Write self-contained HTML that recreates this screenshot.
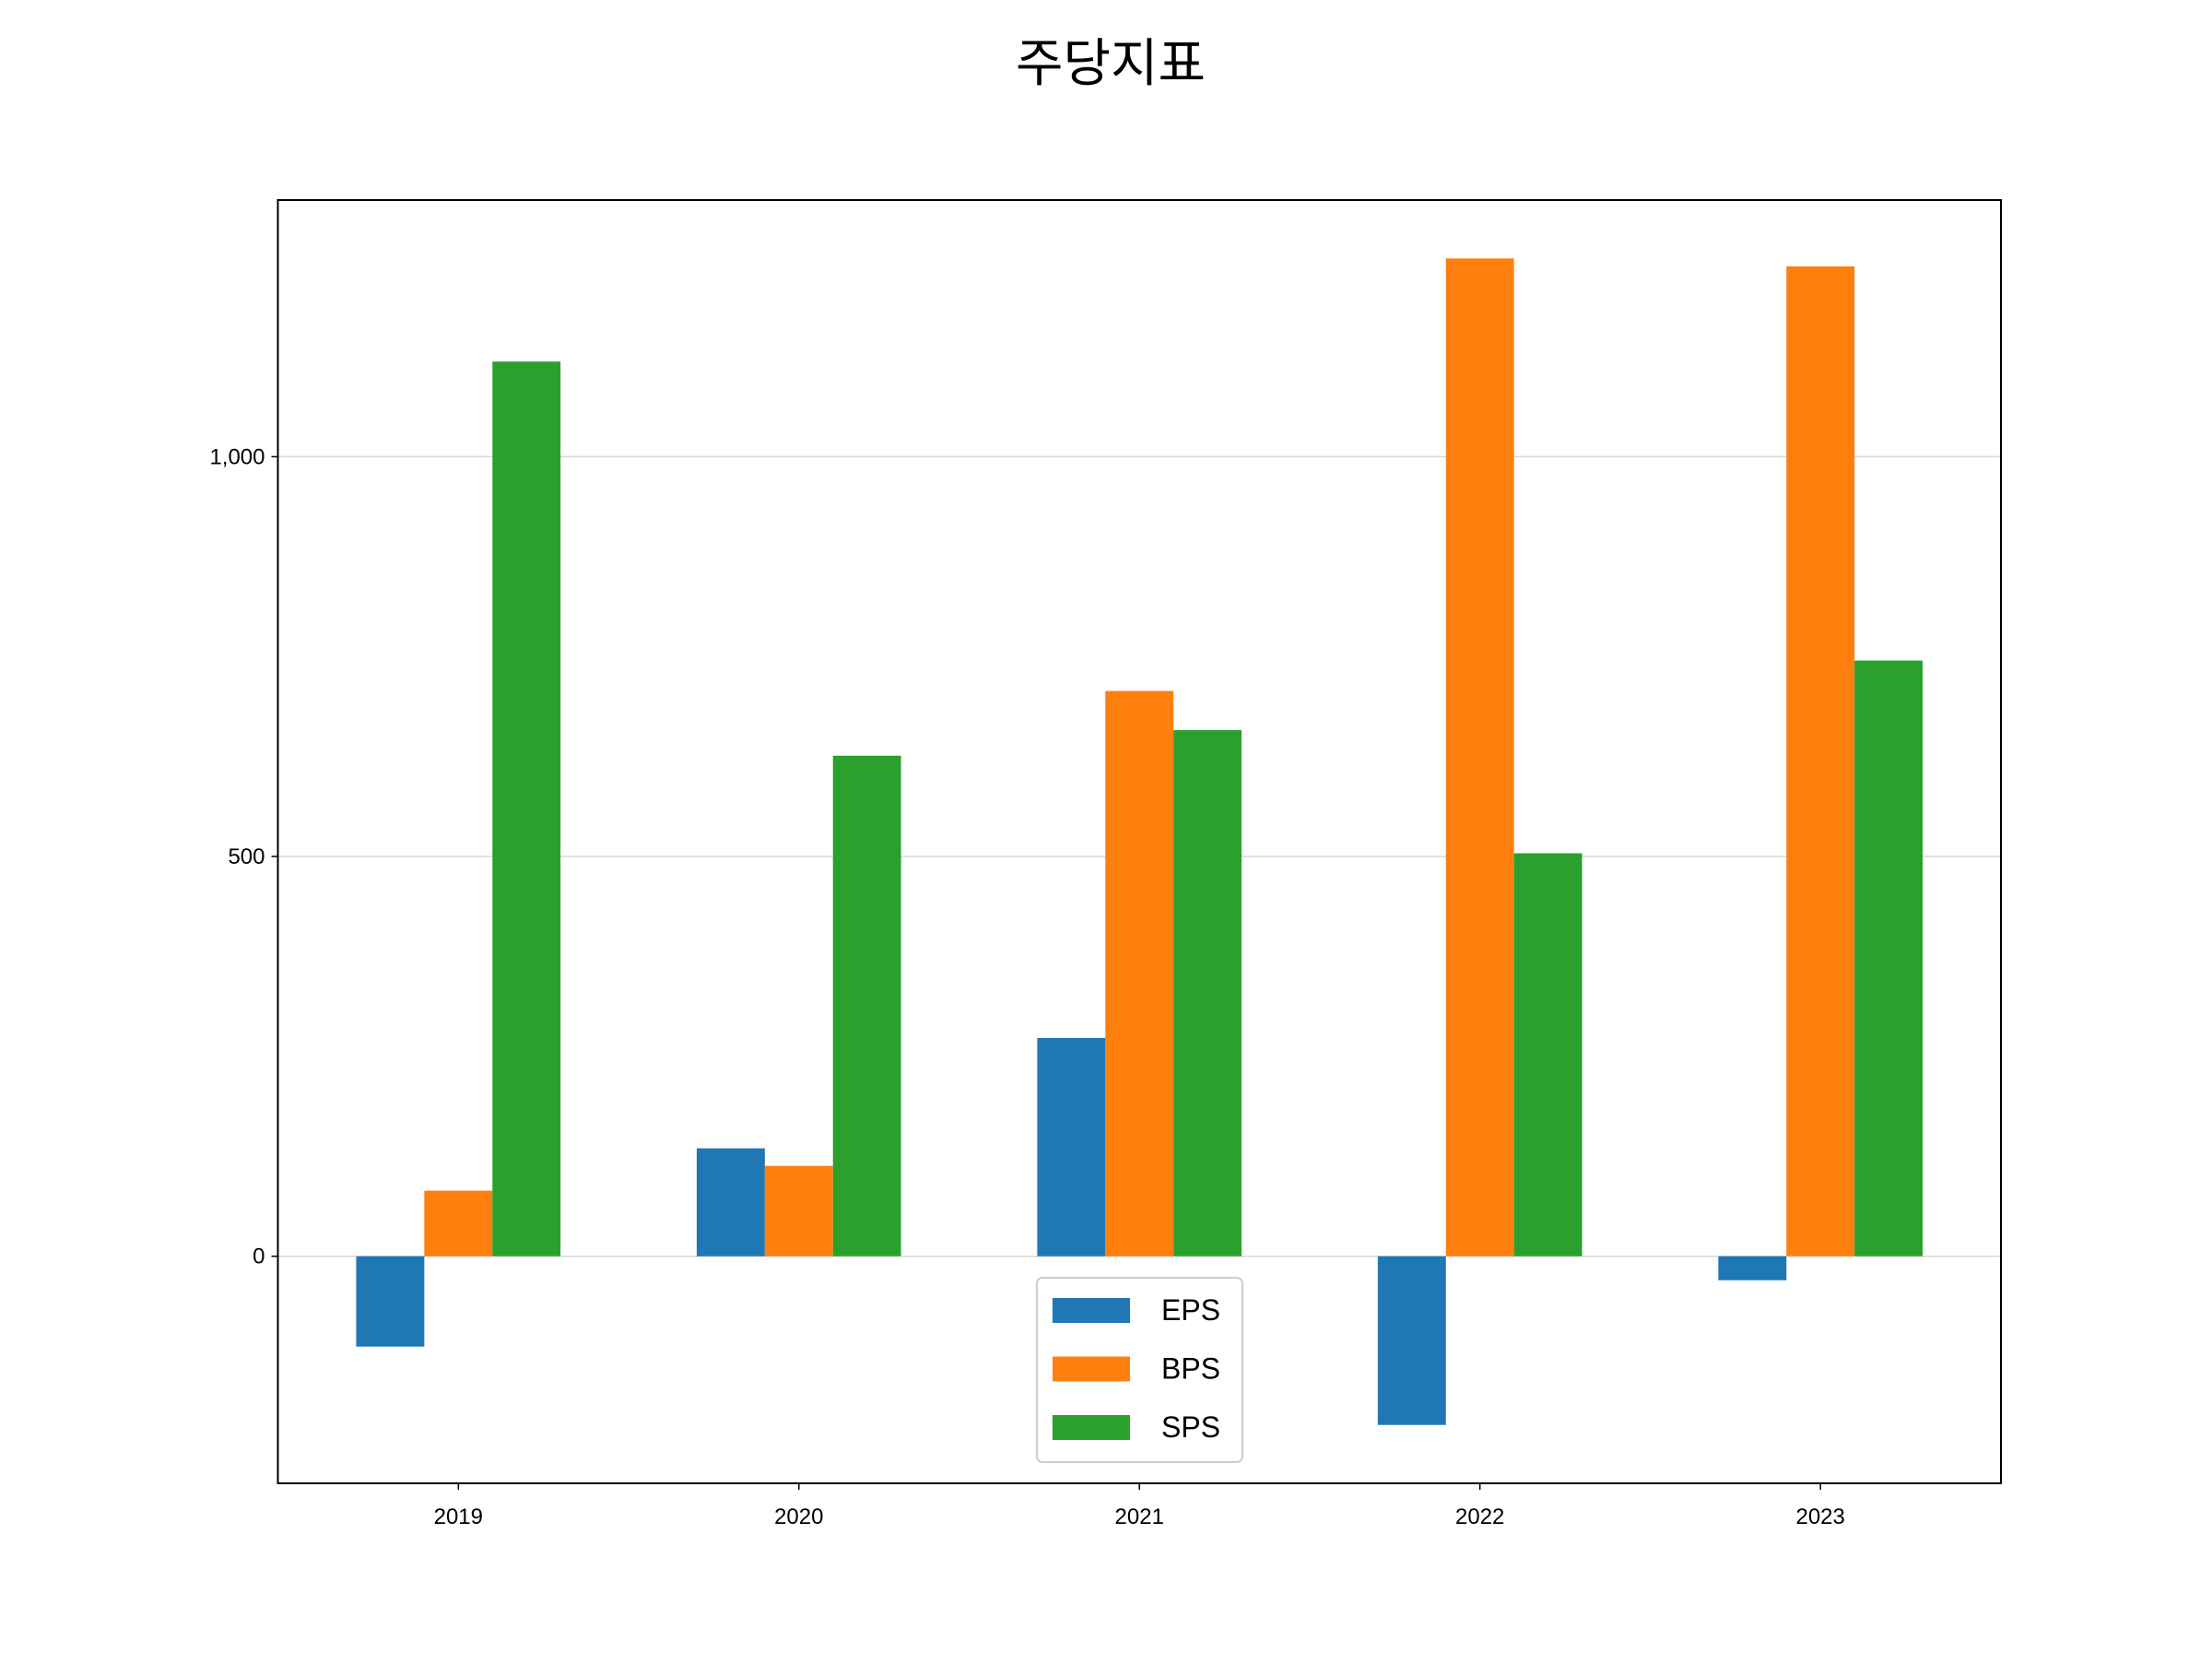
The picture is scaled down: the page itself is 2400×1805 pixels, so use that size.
<!DOCTYPE html>
<html><head><meta charset="utf-8"><style>
body{margin:0;background:#fff;}
svg text{font-family:"Liberation Sans","Noto Sans CJK KR","NanumGothic",sans-serif;}
</style></head><body>
<svg id="chart" width="2400" height="1800" xmlns="http://www.w3.org/2000/svg">
<rect width="2400" height="1800" fill="#fff"/>
<text x="1205" y="88" font-size="56" text-anchor="middle" fill="#000">주당지표</text>
<g id="grid"></g><g id="bars"></g><g id="axes"></g><g id="legend"></g>
</svg>
<script>
const categories=["2019","2020","2021","2022","2023"];
const seriesNames=["EPS","BPS","SPS"];
const eps=[-113,135,273,-211,-30];
const bps=[82,113,707,1248,1238];
const sps=[1119,626,658,504,745];
const yTicks=[0,500,1000];
const yTickLabels=["0","500","1,000"];
const colors=["#1f77b4","#ff7f0e","#2ca02c"];
const L=301.5,R=2171,T=217,B=1609;
const yMin=-284,yMax=1321,xMin=-0.53,xMax=4.53;
const y=v=>B-(v-yMin)/(yMax-yMin)*(B-T);
const x=v=>L+(v-xMin)/(xMax-xMin)*(R-L);
const NS="http://www.w3.org/2000/svg";
function mk(tag,attrs,parent){const e=document.createElementNS(NS,tag);for(const k in attrs)e.setAttribute(k,attrs[k]);parent.appendChild(e);return e;}
const grid=document.getElementById('grid'),bars=document.getElementById('bars'),axes=document.getElementById('axes'),legend=document.getElementById('legend');
yTicks.forEach((t,i)=>{
 const g=mk('line',{x1:L,x2:R,y1:y(t),y2:y(t),stroke:'#d9d9d9','stroke-width':1.5},grid);
 
 
 const tk=mk('line',{x1:L-7,x2:L,y1:y(t),y2:y(t),stroke:'#000','stroke-width':1.5},axes);
 
 
 const tx=mk('text',{x:L-14,y:y(t)+8,'font-size':24,'text-anchor':'end',fill:'#000'},axes);
 tx.textContent=yTickLabels[i];
 
 
});
const data=[eps,bps,sps];
const bw=0.2*(x(1)-x(0));
categories.forEach((c,i)=>{
 data.forEach((s,j)=>{
  const cx=x(i)+(j-1)*bw;
  const v=s[i];
  const r=mk('rect',{x:cx-bw/2,width:bw,y:Math.min(y(v),y(0)),height:Math.abs(y(v)-y(0)),fill:colors[j]},bars);
  
  
 });
 const tk=mk('line',{x1:x(i),x2:x(i),y1:B,y2:B+7,stroke:'#000','stroke-width':1.5},axes);
 
 
 const tx=mk('text',{x:x(i),y:B+44,'font-size':24,'text-anchor':'middle',fill:'#000'},axes);
 tx.textContent=c;
 
 
});
const frame=mk('rect',{x:L,y:T,width:R-L,height:B-T,fill:'none',stroke:'#000','stroke-width':2},axes);


const lb=mk('rect',{x:1125,y:1386,width:223,height:200,rx:6,fill:'#fff','fill-opacity':0.8,stroke:'#ccc','stroke-width':2},legend);


seriesNames.forEach((n,j)=>{
 const cy=1421+j*63.5;
 const p=mk('rect',{x:1142,y:cy-13,width:84,height:27,fill:colors[j]},legend);
 
 
 const t=mk('text',{x:1260,y:cy+11,'font-size':32,fill:'#000'},legend);
 t.textContent=n;
 
 
});
</script>
</body></html>
